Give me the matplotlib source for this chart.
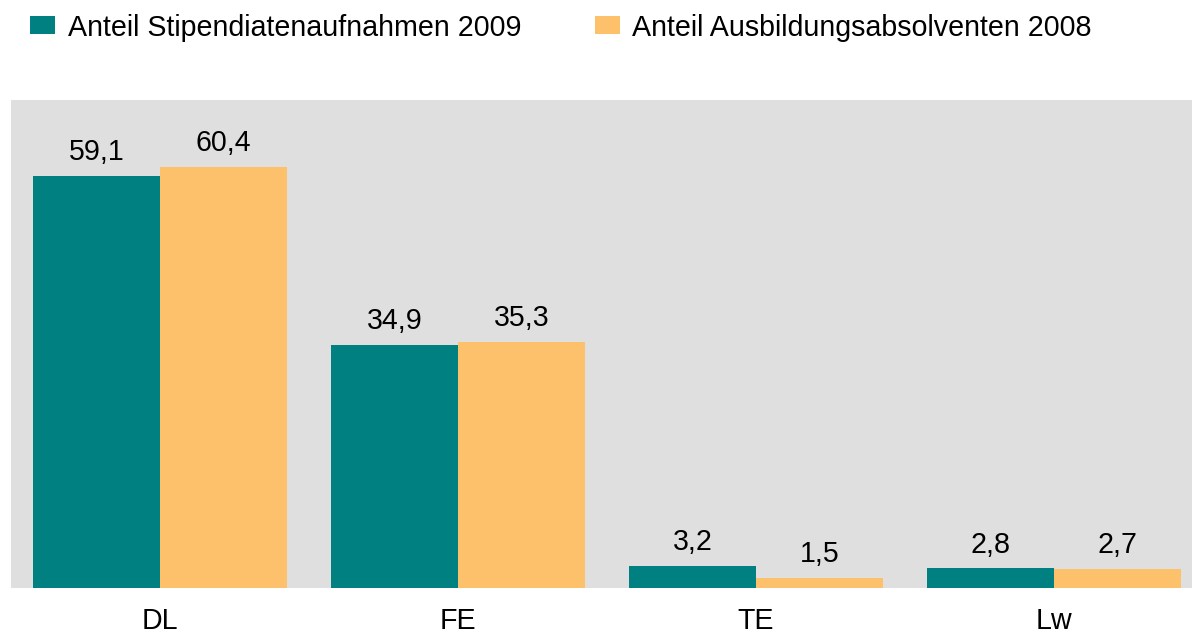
import numpy as np
import matplotlib.pyplot as plt

categories = ["DL", "FE", "TE", "Lw"]
stipendiaten_2009 = [59.1, 34.9, 3.2, 2.8]
absolventen_2008 = [60.4, 35.3, 1.5, 2.7]
series_labels = ["Anteil Stipendiatenaufnahmen 2009", "Anteil Ausbildungsabsolventen 2008"]

teal = "#008080"
orange = "#FDC06B"

plt.rcParams["font.family"] = ["Liberation Sans", "DejaVu Sans"]
FS = 20.6


def fmt(v):
    return f"{v:.1f}".replace(".", ",")


def main():
    fig = plt.figure(figsize=(11.92, 6.34), dpi=100)
    ax = fig.add_axes([11 / 1192, 46 / 634, 1181 / 1192, 488 / 634])
    ax.set_facecolor("#DFDFDF")

    x = np.arange(len(categories))
    w = 127 / 298
    b1 = ax.bar(x - w / 2, stipendiaten_2009, w, color=teal, label=series_labels[0])
    b2 = ax.bar(x + w / 2, absolventen_2008, w, color=orange, label=series_labels[1])

    for bars, vals in ((b1, stipendiaten_2009), (b2, absolventen_2008)):
        for bar, v in zip(bars, vals):
            ax.annotate(fmt(v), (bar.get_x() + bar.get_width() / 2, v),
                        xytext=(0, 7), textcoords="offset points",
                        ha="center", va="bottom", fontsize=FS)

    ax.set_xlim(-0.5, 3.463)
    ax.set_ylim(0, 70)
    ax.set_xticks(x)
    ax.set_xticklabels(categories, fontsize=FS)
    ax.tick_params(axis="x", length=0, pad=14)
    ax.set_yticks([])
    for s in ax.spines.values():
        s.set_visible(False)

    px = FS * 100 / 72
    fig.legend(handles=[b1, b2], loc="center left", bbox_to_anchor=(30 / 1192, 1 - 27.5 / 634),
               ncol=2, frameon=False, fontsize=FS, borderpad=0, borderaxespad=0,
               handlelength=25 / px, handleheight=17 / px,
               handletextpad=13 / px, columnspacing=73 / px)

    fig.savefig("out.png", dpi=100)


if __name__ == "__main__":
    main()
